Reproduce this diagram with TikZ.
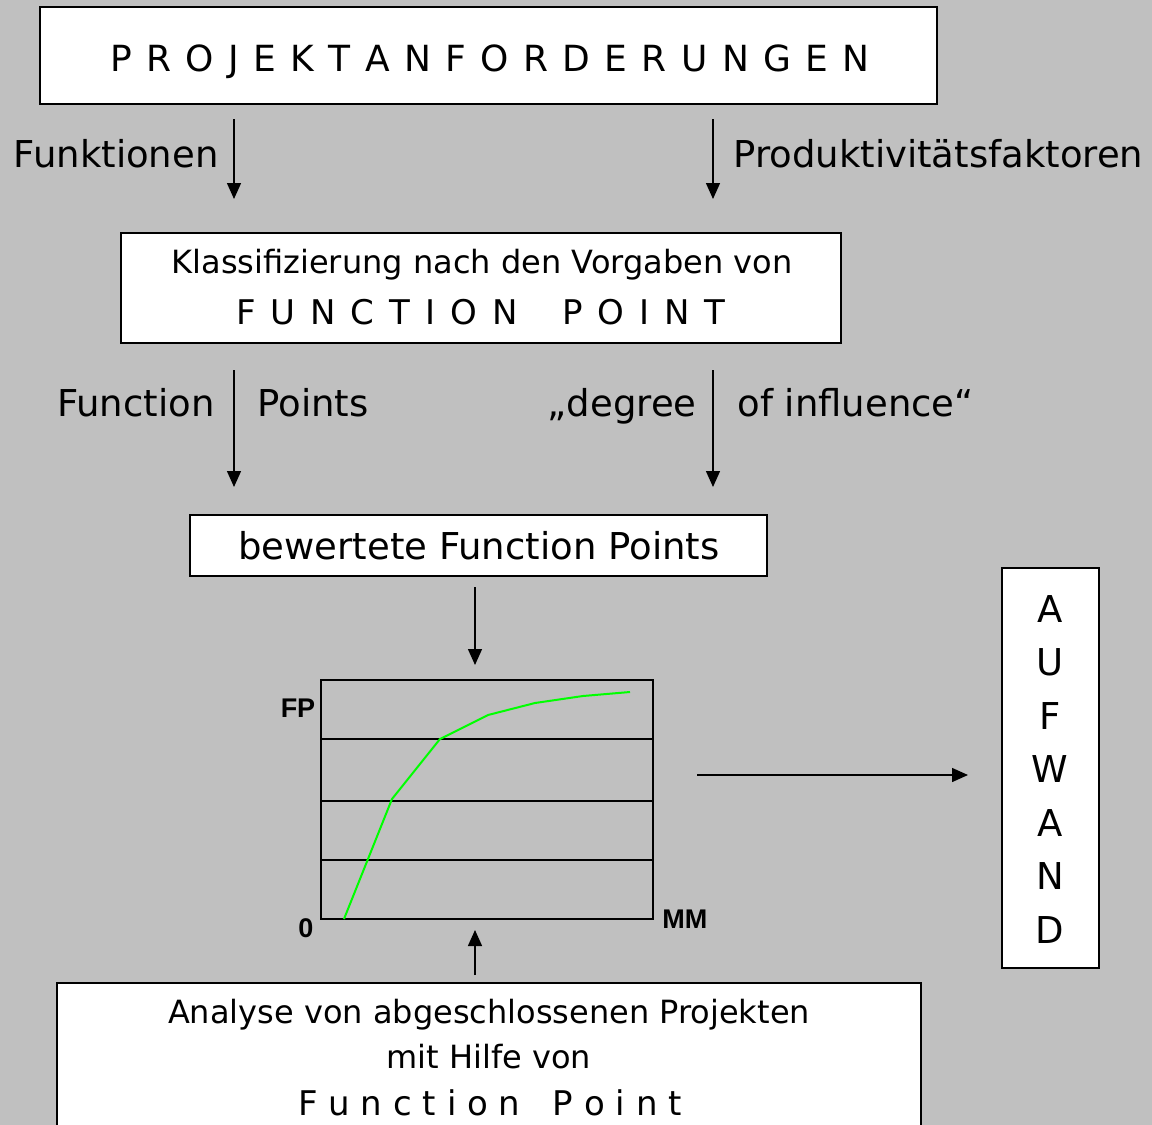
\documentclass[tikz,border=0pt]{standalone}
\usepackage{fontspec}
\setmainfont{DejaVu Sans}
\newfontfamily\chartfont{Liberation Sans}
\usetikzlibrary{arrows.meta}
\definecolor{bggray}{HTML}{C0C0C0}
\definecolor{curvegreen}{HTML}{00FF00}
\newcommand\widespace[1]{\spaceskip=#1em\relax}

\begin{document}
\begin{tikzpicture}[x=0.5pt, y=-0.5pt,
  box/.style={draw=black, line width=1pt, fill=white, inner sep=0pt},
  flow/.style={-{Triangle[width=7pt,length=8pt]}, line width=0.7pt},
  lbl/.style={font=\fontsize{18.5}{22}\selectfont, inner sep=0pt},
  txt/.style={inner sep=0pt, anchor=base},
  axis/.style={font=\chartfont\bfseries\fontsize{13.5}{16}\selectfont, inner sep=0pt}]
\useasboundingbox[fill=bggray] (0,0) rectangle (1152,1125);
\clip (0,0) rectangle (1152,1125);

% Anforderungen
\node[box, minimum width=448.5pt, minimum height=48.5pt] (anf) at (488.5,55.5) {};
\node[txt, font=\fontsize{18}{22}\selectfont] (anftxt) at (490,71)
  {\widespace{0.40}P R O J E K T A N F O R D E R U N G E N};
\coordinate (funA) at (234,119);
\coordinate (funB) at (234,199);
\coordinate (prodA) at (713,119);
\coordinate (prodB) at (713,199);
\draw[flow] (funA) -- (funB);
\draw[flow] (prodA) -- (prodB);
\node[lbl, anchor=base east] (funkt) at (219,167) {Funktionen};
\node[lbl, anchor=base west] (prodf) at (733,167) {Produktivitätsfaktoren};

% Klassifizierung
\node[box, minimum width=360pt, minimum height=55pt] (klass) at (481,288) {};
\node[txt, font=\fontsize{16}{19}\selectfont] (klass1) at (482,273)
  {Klassifizierung nach den Vorgaben von};
\node[txt, font=\fontsize{17}{20}\selectfont] (klass2) at (481,324)
  {\widespace{0.44}F U N C T I O N \ \ P O I N T};
\coordinate (fpA) at (234,370);
\coordinate (fpB) at (234,487);
\coordinate (doiA) at (713,370);
\coordinate (doiB) at (713,487);
\draw[flow] (fpA) -- (fpB);
\draw[flow] (doiA) -- (doiB);
\node[lbl, anchor=base east] (fpl) at (215,416) {Function};
\node[lbl, anchor=base west] (fpr) at (257,416) {Points};
\node[lbl, anchor=base east] (doil) at (697,416) {„degree};
\node[lbl, anchor=base west] (doir) at (737,416) {of influence“};

% bewertete Function Points
\node[box, minimum width=288.5pt, minimum height=30.5pt] (bew) at (478.5,545.5) {};
\node[lbl, anchor=base] (bewtxt) at (479,559) {bewertete Function Points};
\coordinate (bewA) at (475,587);
\coordinate (bewB) at (475,665);
\draw[flow] (bewA) -- (bewB);

% Diagramm
\node[draw=black, line width=1pt, minimum width=166pt, minimum height=119.5pt, inner sep=0pt]
  (chart) at (487,799.5) {};
\foreach \y in {739,801,860}
  \draw[line width=0.8pt] (chart.west |- 0,\y) -- (chart.east |- 0,\y);
\draw[curvegreen, line width=1pt] (344,919) -- (392,799) -- (440,739) -- (488,715)
  -- (535,703) -- (583,696) -- (630,692);
\node[axis, anchor=base] (fp) at (298,717) {FP};
\node[axis, anchor=base] (null) at (306,937) {0};
\node[axis, anchor=base west] (mm) at (662,928) {MM};

% Aufwand
\node[box, minimum width=48.5pt, minimum height=200pt] (aufw) at (1050,768) {};
\foreach \ch [count=\i from 0] in {A,U,F,W,A,N,D}
  \node[txt, font=\fontsize{18.5}{22}\selectfont] (aufw\i) at (1050,{622+53.5*\i}) {\ch};
\coordinate (aufA) at (697,775);
\coordinate (aufB) at (968,775);
\draw[flow] (aufA) -- (aufB);

% Analyse
\node[box, minimum width=432pt, minimum height=80pt] (ana) at (489,1063) {};
\node[txt, font=\fontsize{16}{19}\selectfont] (ana1) at (489,1023)
  {Analyse von abgeschlossenen Projekten};
\node[txt, font=\fontsize{16}{19}\selectfont] (ana2) at (489,1068) {mit Hilfe von};
\node[txt, font=\fontsize{17}{20}\selectfont] (ana3) at (490,1115)
  {F u n c t i o n \ \ P o i n t};
\coordinate (anaA) at (475,975);
\coordinate (anaB) at (475,930);
\draw[flow] (anaA) -- (anaB);
\end{tikzpicture}
\end{document}
